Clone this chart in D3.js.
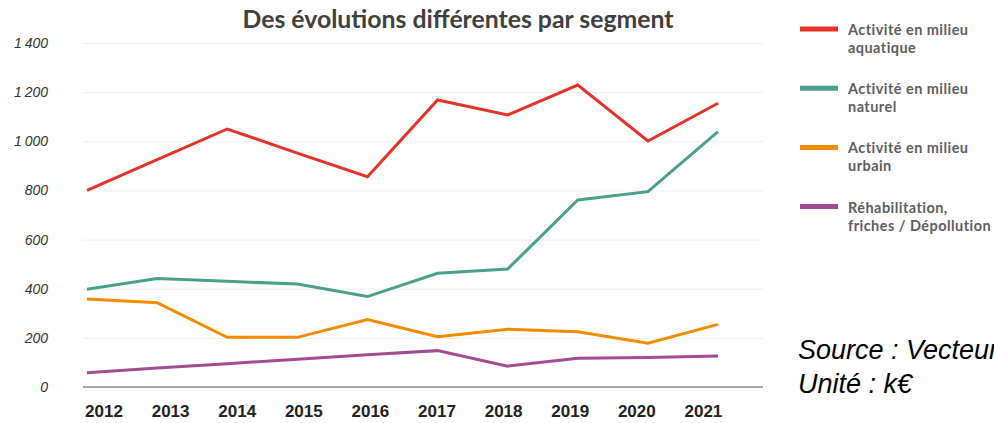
<!DOCTYPE html>
<html>
<head>
<meta charset="utf-8">
<script src="https://cdn.jsdelivr.net/npm/d3@7"></script>
<style>
  body { margin: 0; background: #fff; }
  svg { display: block; }
</style>
</head>
<body>
<svg width="994" height="423"></svg>
<script>
// data (k€)
var years = ["2012", "2013", "2014", "2015", "2016", "2017", "2018", "2019", "2020", "2021"];
var aquatique = [800, 925, 1050, 952, 856, 1168, 1107, 1229, 1001, 1155];
var naturel = [398, 442, 430, 419, 368, 463, 480, 761, 795, 1039];
var urbain = [358, 343, 202, 202, 275, 205, 235, 225, 178, 255];
var rehab = [58, 77, 95, 113, 131, 148, 85, 117, 120, 126];
var yTicks = [0, 200, 400, 600, 800, 1000, 1200, 1400];

var seriesNames = [
  ["Activité en milieu", "aquatique"],
  ["Activité en milieu", "naturel"],
  ["Activité en milieu", "urbain"],
  ["Réhabilitation,", "friches / Dépollution"]
];
var colors = ["#e5332a", "#4aa08c", "#f38b00", "#a44c93"];

var svg = d3.select("svg");

// plot frame
var plot = { left: 83, right: 763, top: 43, bottom: 387 };

// points for lines, band for labels (labels sit a bit off the points in the original)
var x = d3.scalePoint().domain(years).range([87, 718]);
var xLab = d3.scaleBand().domain(years).range([70.7, 736.7]);
var y = d3.scaleLinear().domain([0, 1400]).range([plot.bottom, plot.top]);

var fr = d3.formatLocale({ decimal: ",", thousands: "\u2009", grouping: [3], currency: ["", " €"] });

// title
svg.append("text")
  .attr("x", 458)
  .attr("y", 28)
  .attr("text-anchor", "middle")
  .style("font-family", "Lato, sans-serif")
  .style("font-weight", "bold")
  .style("font-size", "24.8px")
  .style("fill", "#404040")
  .text("Des évolutions différentes par segment");

// y grid + labels
var yAxis = svg.append("g")
  .attr("transform", "translate(" + plot.left + ",0)")
  .call(d3.axisLeft(y).tickValues(yTicks).tickSize(-(plot.right - plot.left)).tickPadding(35).tickFormat(fr.format(",")));
yAxis.select(".domain").remove();
yAxis.selectAll(".tick line").attr("stroke", "#efefef").attr("stroke-width", 1);
yAxis.selectAll(".tick text")
  .style("font-family", "'Liberation Sans', Arial, sans-serif")
  .style("font-style", "italic")
  .style("font-size", "14px")
  .style("fill", "#333");

// x axis labels
var xAxis = svg.append("g")
  .attr("transform", "translate(0," + plot.bottom + ")")
  .call(d3.axisBottom(xLab).tickSize(0).tickPadding(18));
xAxis.select(".domain").remove();
xAxis.selectAll(".tick text")
  .style("font-family", "'Liberation Sans', Arial, sans-serif")
  .style("font-weight", "bold")
  .style("font-size", "17px")
  .style("fill", "#222");

// base line
svg.append("line")
  .attr("x1", plot.left).attr("x2", plot.right)
  .attr("y1", y(0)).attr("y2", y(0))
  .attr("stroke", "#8c8c8c")
  .attr("stroke-width", 1.5);

// lines
var line = d3.line()
  .x(function (d, i) { return x(years[i]); })
  .y(function (d) { return y(d); });

[aquatique, naturel, urbain, rehab].forEach(function (s, i) {
  svg.append("path")
    .datum(s)
    .attr("fill", "none")
    .attr("stroke", colors[i])
    .attr("stroke-width", 3)
    .attr("stroke-linejoin", "miter")
    .attr("d", line);
});

// legend
var legend = svg.append("g").attr("transform", "translate(800,29)");
seriesNames.forEach(function (name, i) {
  var g = legend.append("g").attr("transform", "translate(0," + (i * 59.2) + ")");
  g.append("line")
    .attr("x1", 0).attr("x2", 38)
    .attr("stroke", colors[i])
    .attr("stroke-width", 5);
  var t = g.append("text")
    .attr("x", 48)
    .attr("y", 6)
    .style("font-family", "Lato, sans-serif")
    .style("font-weight", "bold")
    .style("font-size", "14.5px")
    .style("letter-spacing", "0.45px")
    .style("fill", "#5e5e5e");
  t.append("tspan").attr("x", 48).text(name[0]);
  t.append("tspan").attr("x", 48).attr("dy", 18).text(name[1]);
});

// source note
var note = svg.append("text")
  .attr("x", 798)
  .attr("y", 359)
  .style("font-family", "'Liberation Sans', Arial, sans-serif")
  .style("font-style", "italic")
  .style("font-size", "27px")
  .style("fill", "#000");
note.append("tspan").attr("x", 798).text("Source : Vecteur");
note.append("tspan").attr("x", 798).attr("dy", 34).text("Unité : k€");
</script>
</body>
</html>
